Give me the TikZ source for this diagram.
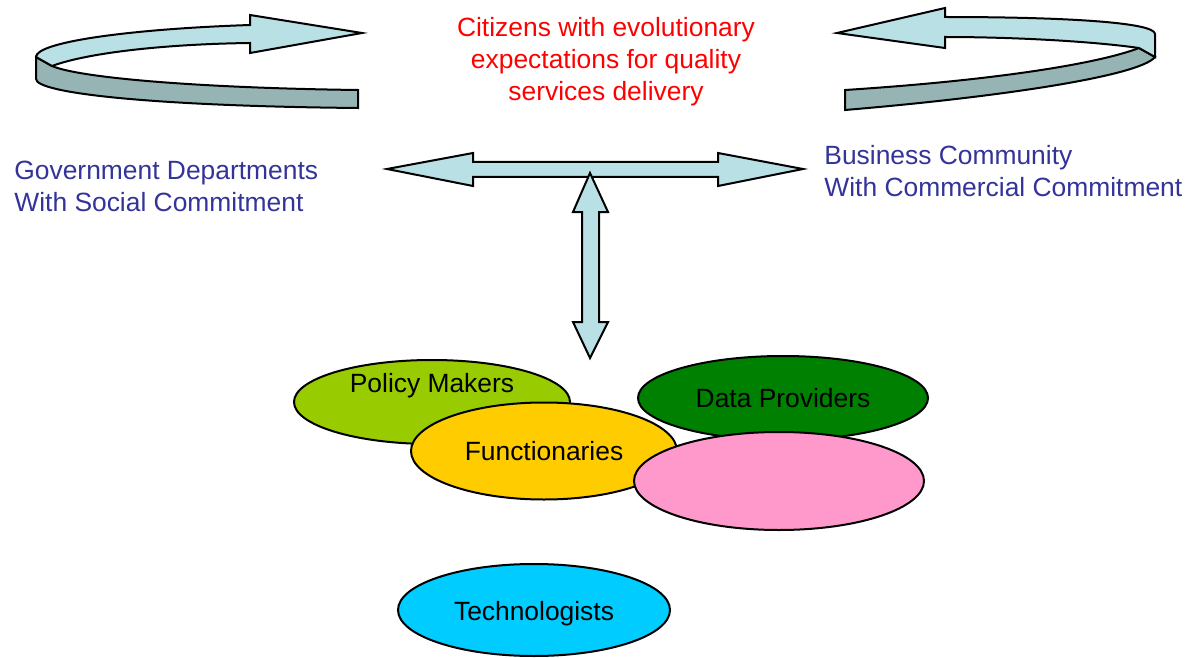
\documentclass[tikz,border=0pt]{standalone}
\usepackage{fontspec}
\setmainfont{Liberation Sans}
\usepackage{xcolor}
\usepackage{tikz}
\usetikzlibrary{shapes.geometric}
\definecolor{bandtop}{RGB}{185,224,228}
\definecolor{bandside}{RGB}{150,180,180}
\definecolor{govblue}{RGB}{51,51,153}
\definecolor{leafgreen}{RGB}{153,204,0}
\definecolor{amber}{RGB}{255,204,0}
\definecolor{darkleaf}{RGB}{0,128,0}
\definecolor{rosepink}{RGB}{255,153,204}
\definecolor{skycyan}{RGB}{0,204,255}

\begin{document}
\begin{tikzpicture}[x=0.5pt, y=-0.5pt,
                    band/.style={draw, line width=1pt, fill=#1},
                    blob/.style n args={3}{ellipse, draw, line width=1pt, fill=#1,
                    minimum width=#2pt, minimum height=#3pt, inner sep=0pt},
                    txt/.style={font=\fontsize{13.2}{16}\selectfont, inner sep=0pt}]
    \useasboundingbox (0,0) rectangle (1189,658);

    \draw[band=bandside] (36,57) -- (36,79) .. controls (36,93) and (150,106) .. (358,108)
        -- (358,90) .. controls (200,88) and (80,78) .. (52,66) -- cycle;
    \draw[band=bandtop] (250,25) .. controls (130,29) and (36,42) .. (36,57)
        -- (52,66) .. controls (90,52) and (170,44) .. (250,43)
        -- (250,53) -- (362,33) -- (250,15) -- cycle;

    \draw[band=bandside] (1139,48) -- (1155,57) .. controls (1140,76) and (1000,97) .. (845,110)
        -- (845,90) .. controls (1000,80) and (1100,63) .. (1139,48) -- cycle;
    \draw[band=bandtop] (945,17) .. controls (1060,17) and (1155,22) .. (1155,34)
        -- (1155,57) -- (1139,48) .. controls (1090,41) and (1010,37) .. (945,37)
        -- (945,48) -- (837,33) -- (945,8) -- cycle;

    \draw[band=bandtop] (387,169) -- (473,153) -- (473,162) -- (718,162) -- (718,153)
        -- (803,169) -- (718,186) -- (718,177) -- (473,177) -- (473,186) -- cycle;
    \draw[band=bandtop] (590,173) -- (608,212) -- (599,212) -- (599,322) -- (608,322)
        -- (590,358) -- (573,322) -- (582,322) -- (582,212) -- (573,212) -- cycle;

    \node[txt, red, align=center] (citizens) at (606,62)
        {Citizens with evolutionary\\expectations for quality\\services delivery};
    \node[txt, govblue, align=left, anchor=west] (govt) at (14,186)
        {Government Departments\\With Social Commitment};
    \node[txt, govblue, align=left, anchor=west] (business) at (824,171)
        {Business Community\\With Commercial Commitment};

    \node[blob={leafgreen}{138}{42}] (policy) at (432,402) {};
    \node[txt] (policylabel) at (432,386) {Policy Makers};
    \node[blob={darkleaf}{145}{42}, txt] (data) at (783,398) {Data Providers};
    \node[blob={amber}{133}{48.5}, txt] (func) at (544,451) {Functionaries};
    \node[blob={rosepink}{145}{49}] (pink) at (779,481) {};
    \node[blob={skycyan}{136}{46}, txt] (tech) at (534,610) {};
    \node[txt] (techlabel) at (534,614) {Technologists};
\end{tikzpicture}
\end{document}
